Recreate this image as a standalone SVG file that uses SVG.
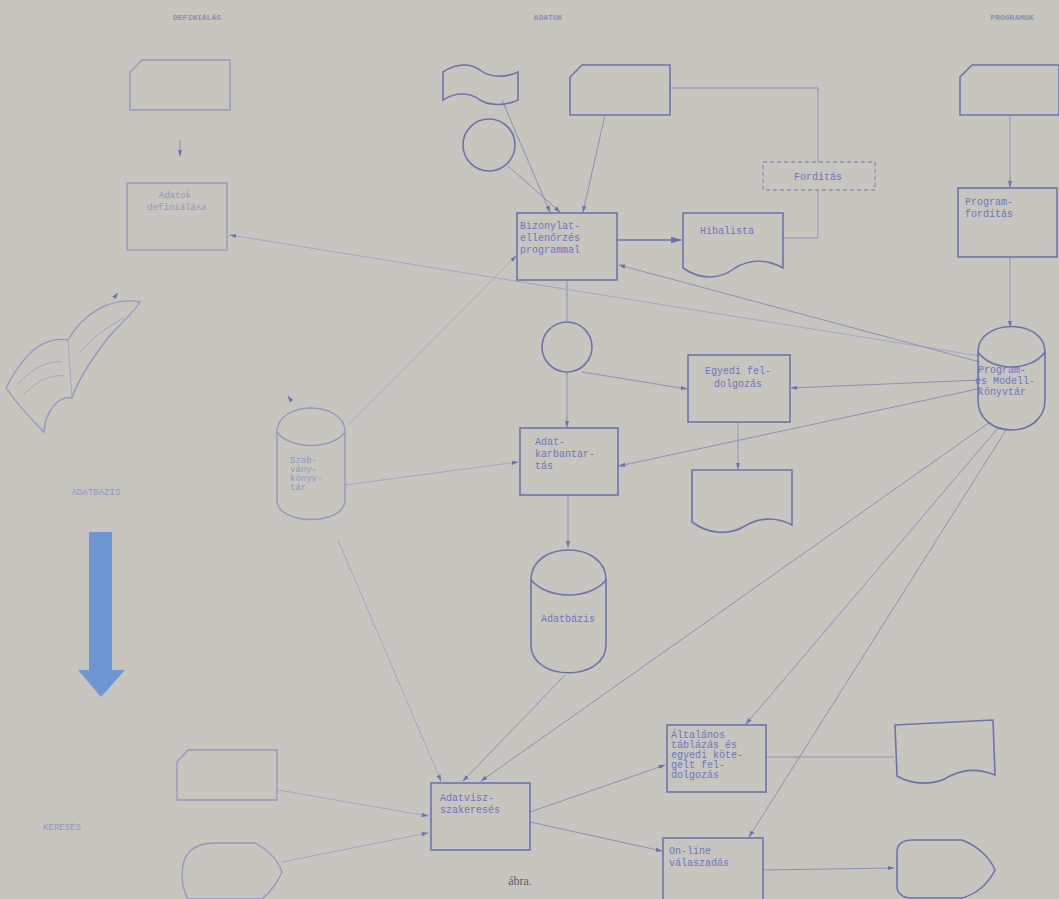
<svg xmlns="http://www.w3.org/2000/svg" width="1059" height="899" viewBox="0 0 1059 899">
<style>
.bg{fill:#c8c5be}
.s{fill:none;stroke:#6b72b4;stroke-width:1.6}
.sl{fill:none;stroke:#8e96c4;stroke-width:1.3}
.c{fill:none;stroke:#8a90b8;stroke-width:1}
.cf{fill:none;stroke:#a0a6c6;stroke-width:1}
.d{fill:none;stroke:#8a8fb0;stroke-width:1.3;stroke-dasharray:4 3}
.t{font-family:"Liberation Mono",monospace;font-size:10px;fill:#6a74c4}
.tl{font-family:"Liberation Mono",monospace;font-size:9px;fill:#8c95c8}
.h{font-family:"Liberation Mono",monospace;font-size:8px;font-weight:bold;fill:#8a90b4}
.m{text-anchor:middle}
</style>
<defs>
<marker id="a" viewBox="0 0 10 10" refX="9" refY="5" markerWidth="7" markerHeight="7" orient="auto-start-reverse">
<path d="M0,2 L10,5 L0,8 Z" fill="#6b72b4"/>
</marker>
</defs>
<rect class="bg" x="0" y="0" width="1059" height="899"/>

<g id="headers">
<text class="h m" x="197" y="20">DEFINIÁLÁS</text>
<text class="h m" x="548" y="20">ADATOK</text>
<text class="h m" x="1012" y="20" fill="#6a70b0">PROGRAMOK</text>
<text class="tl m" x="96" y="495">ADATBÁZIS</text>
<text class="tl m" x="62" y="830">KERESÉS</text>
<text x="520" y="885" font-family="Liberation Serif, serif" font-size="12" fill="#5a5a66" class="m">ábra.</text>
</g>

<g id="connectors">
<line class="c" x1="180" y1="140" x2="180" y2="156" marker-end="url(#a)"/>
<line class="c" x1="502" y1="100" x2="550" y2="212" marker-end="url(#a)"/>
<line class="c" x1="508" y1="166" x2="560" y2="212" marker-end="url(#a)"/>
<line class="c" x1="605" y1="115" x2="583" y2="212" marker-end="url(#a)"/>
<polyline class="c" points="670,88 818,88 818,162"/>
<polyline class="c" points="818,190 818,238 783,238"/>
<line class="s" x1="617" y1="240" x2="681" y2="240" marker-end="url(#a)"/>
<line class="c" x1="567" y1="280" x2="567" y2="321"/>
<line class="c" x1="567" y1="372" x2="567" y2="427" marker-end="url(#a)"/>
<line class="c" x1="582" y1="372" x2="687" y2="389" marker-end="url(#a)"/>
<line class="c" x1="738" y1="422" x2="738" y2="469" marker-end="url(#a)"/>
<line class="c" x1="568" y1="495" x2="568" y2="547" marker-end="url(#a)"/>
<line class="c" x1="565" y1="675" x2="463" y2="781" marker-end="url(#a)"/>
<line class="c" x1="530" y1="812" x2="665" y2="765" marker-end="url(#a)"/>
<line class="c" x1="530" y1="822" x2="662" y2="851" marker-end="url(#a)"/>
<line class="c" x1="766" y1="757" x2="894" y2="757"/>
<line class="c" x1="763" y1="870" x2="894" y2="868" marker-end="url(#a)"/>
<line class="cf" x1="282" y1="862" x2="428" y2="833" marker-end="url(#a)"/>
<line class="cf" x1="278" y1="790" x2="428" y2="816" marker-end="url(#a)"/>
<line class="cf" x1="338" y1="540" x2="441" y2="781" marker-end="url(#a)"/>
<line class="cf" x1="348" y1="425" x2="516" y2="256" marker-end="url(#a)"/>
<line class="cf" x1="345" y1="485" x2="518" y2="462" marker-end="url(#a)"/>
<line class="cf" x1="292" y1="402" x2="288" y2="396" marker-end="url(#a)"/>
<line class="cf" x1="112" y1="300" x2="118" y2="293" marker-end="url(#a)"/>
<line class="c" x1="1010" y1="115" x2="1010" y2="187" marker-end="url(#a)"/>
<line class="c" x1="1010" y1="257" x2="1010" y2="327" marker-end="url(#a)"/>
<line class="cf" x1="980" y1="356" x2="230" y2="235" marker-end="url(#a)"/>
<line class="c" x1="980" y1="362" x2="619" y2="265" marker-end="url(#a)"/>
<line class="c" x1="980" y1="380" x2="791" y2="388" marker-end="url(#a)"/>
<line class="c" x1="982" y1="388" x2="619" y2="466" marker-end="url(#a)"/>
<line class="c" x1="990" y1="422" x2="481" y2="781" marker-end="url(#a)"/>
<line class="c" x1="998" y1="428" x2="746" y2="724" marker-end="url(#a)"/>
<line class="c" x1="1006" y1="430" x2="749" y2="837" marker-end="url(#a)"/>
</g>

<g id="card-def"><path class="sl" d="M142,60 L230,60 L230,110 L130,110 L130,72 Z"/></g>
<g id="adatok-def">
<rect class="sl" x="127" y="183" width="100" height="67"/>
<text class="tl m" x="175" y="198">Adatok</text>
<text class="tl m" x="177" y="210">definiálása</text>
</g>
<g id="book">
<path class="sl" d="M6,388 C20,360 40,335 68,340 C82,315 110,296 140,302 C128,320 112,330 102,346 C90,362 78,380 72,398 C60,395 45,410 44,432 C32,420 18,405 6,388 Z"/>
<path class="cf" d="M68,340 L72,398"/>
<path class="cf" d="M18,384 C30,370 48,360 62,362 M24,394 C36,382 50,374 64,376 M80,352 C92,338 108,326 124,318"/>
</g>
<g id="szabvany">
<path class="sl" d="M277,432 C277,400 345,400 345,432 L345,500 C345,526 277,526 277,500 Z"/>
<path class="sl" d="M277,432 C290,450 332,450 345,432"/>
<text class="tl" x="290" y="463" font-size="8">Szab-</text>
<text class="tl" x="290" y="472" font-size="8">vány-</text>
<text class="tl" x="290" y="481" font-size="8">könyv-</text>
<text class="tl" x="290" y="490" font-size="8">tár</text>
</g>
<g id="big-arrow"><path d="M89,532 L112,532 L112,670 L125,670 L101,697 L78,670 L89,670 Z" fill="#6f96d4"/></g>
<g id="card-search"><path class="sl" d="M188,750 L277,750 L277,800 L177,800 L177,762 Z"/></g>
<g id="display-search"><path class="sl" d="M182,875 C182,852 195,843 215,843 L255,843 C268,850 278,860 282,872 C276,886 268,894 262,899 L188,899 C184,892 182,884 182,875 Z"/></g>

<g id="tape"><path class="s" d="M443,72 C458,62 472,64 480,70 C490,78 505,78 518,72 L518,100 C505,106 490,106 480,100 C470,92 455,92 443,100 Z"/></g>
<g id="circle-in"><circle class="s" cx="489" cy="145" r="26"/></g>
<g id="card-in"><path class="s" d="M582,65 L670,65 L670,115 L570,115 L570,77 Z"/></g>
<g id="ellenorzo">
<rect class="s" x="517" y="213" width="100" height="67"/>
<text class="t" x="520" y="229">Bizonylat-</text>
<text class="t" x="520" y="241">ellenőrzés</text>
<text class="t" x="520" y="253">programmal</text>
</g>
<g id="fordítás">
<rect class="d" x="763" y="162" width="112" height="28"/>
<text class="t m" x="818" y="180" fill="#7880b4">Fordítás</text>
</g>
<g id="hibalista">
<path class="s" d="M683,213 L783,213 L783,268 C765,258 748,260 735,268 C720,280 700,280 683,268 Z"/>
<text class="t" x="700" y="234">Hibalista</text>
</g>
<g id="circle-mid"><circle class="s" cx="567" cy="347" r="25"/></g>
<g id="egyedi">
<rect class="s" x="688" y="355" width="102" height="67"/>
<text class="t m" x="738" y="374">Egyedi fel-</text>
<text class="t m" x="738" y="387">dolgozás</text>
</g>
<g id="doc-egyedi"><path class="s" d="M692,470 L792,470 L792,525 C775,516 758,518 745,526 C728,536 708,534 692,522 Z"/></g>
<g id="karbantartas">
<rect class="s" x="520" y="428" width="98" height="67"/>
<text class="t" x="535" y="445">Adat-</text>
<text class="t" x="535" y="457">karbantar-</text>
<text class="t" x="535" y="469">tás</text>
</g>
<g id="adatbazis">
<path class="s" d="M531,580 C531,540 606,540 606,580 L606,645 C606,682 531,682 531,645 Z"/>
<path class="s" d="M531,580 C548,600 590,600 606,580"/>
<text class="t m" x="568" y="622">Adatbázis</text>
</g>
<g id="visszakereses">
<rect class="s" x="431" y="783" width="99" height="67"/>
<text class="t" x="440" y="801">Adatvisz-</text>
<text class="t" x="440" y="813">szakeresés</text>
</g>
<g id="altalanos">
<rect class="s" x="667" y="725" width="99" height="67"/>
<text class="t" x="671" y="738">Általános</text>
<text class="t" x="671" y="748">táblázás és</text>
<text class="t" x="671" y="758">egyedi köte-</text>
<text class="t" x="671" y="768">gelt fel-</text>
<text class="t" x="671" y="778">dolgozás</text>
</g>
<g id="doc-altalanos"><path class="s" d="M895,725 L993,720 L995,775 C978,768 962,770 950,776 C935,786 912,785 897,776 Z"/></g>
<g id="online">
<rect class="s" x="663" y="838" width="100" height="70"/>
<text class="t" x="669" y="854">On-line</text>
<text class="t" x="669" y="866">válaszadás</text>
</g>
<g id="display-online"><path class="s" d="M897,852 C897,845 902,840 912,840 L962,840 C978,846 990,858 995,870 C988,884 976,894 962,898 L912,898 C902,898 897,893 897,886 Z"/></g>

<g id="card-prog"><path class="s" d="M972,65 L1059,65 L1059,115 L960,115 L960,77 Z"/></g>
<g id="forditas-prog">
<rect class="s" x="958" y="188" width="99" height="69"/>
<text class="t" x="965" y="205">Program-</text>
<text class="t" x="965" y="217">fordítás</text>
</g>
<g id="konyvtar">
<path class="s" d="M978,352 C978,318 1045,318 1045,352 L1045,400 C1045,440 978,440 978,400 Z"/>
<path class="s" d="M978,352 C992,372 1031,372 1045,352"/>
<text class="t" x="978" y="373">Program-</text>
<text class="t" x="975" y="384">és Modell-</text>
<text class="t" x="978" y="395">könyvtár</text>
</g>
</svg>
